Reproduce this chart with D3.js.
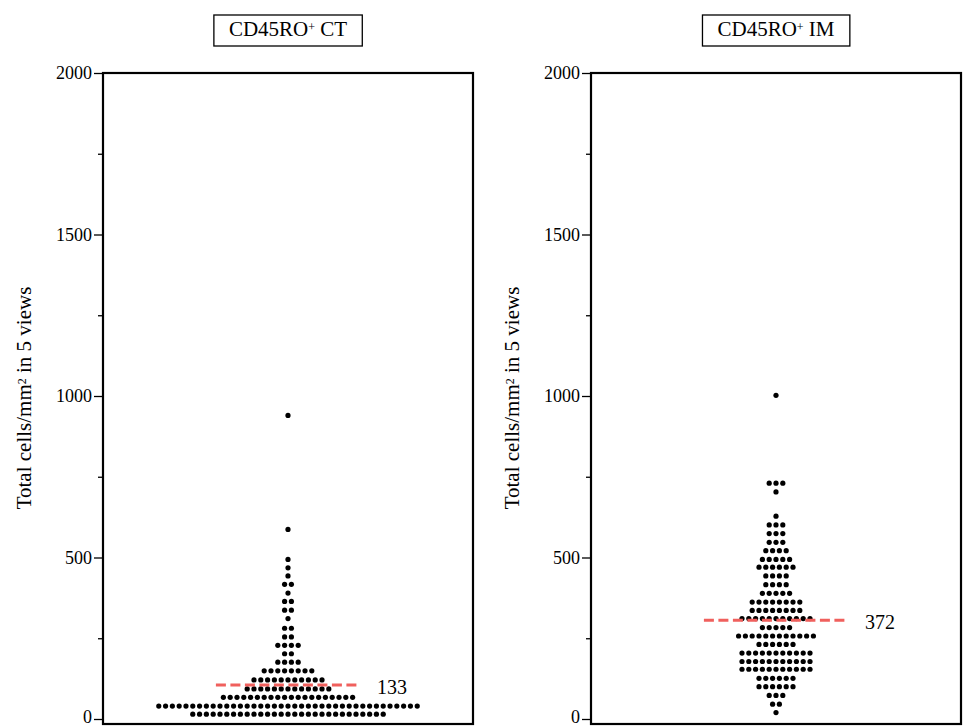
<!DOCTYPE html>
<html>
<head>
<meta charset="utf-8">
<script src="https://cdn.jsdelivr.net/npm/d3@7"></script>
<style>
  body { margin: 0; background: #fff; }
  svg { display: block; font-family: 'Liberation Serif', 'Times New Roman', serif; }
</style>
</head>
<body>
<div class="chart"></div>
<script>
'use strict'
// Data: dot rows (value of the row, number of dots in it).
const ctLevels = [15, 40, 67, 93, 121, 149, 176, 202, 228, 254, 281, 311, 337, 364, 390, 417, 443, 468, 494, 587, 940];
const ctCounts = [29, 39, 20, 13, 11, 8, 4, 2, 4, 2, 2, 1, 2, 2, 1, 2, 1, 1, 1, 1, 1];

const imLevels = [20, 46, 73, 100, 126, 154, 178, 204, 231, 257, 283, 311, 336, 362, 389, 416, 443, 470, 494, 521, 547, 574, 601, 628, 703, 730, 1002];
const imCounts = [1, 2, 3, 6, 6, 11, 11, 11, 6, 12, 5, 11, 8, 8, 5, 4, 4, 6, 5, 4, 3, 3, 3, 1, 1, 3, 1];

const panelNames = ['CT', 'IM'];
const lineValues = [105, 306];
const lineLabels = ['133', '372'];

const majorTicks = [0, 500, 1000, 1500, 2000];
const minorTicks = [250, 750, 1250, 1750];

// Turn rows into single dots, centred on the panel.
function expandRows(levels, counts) {
  const dots = [];
  levels.forEach((v, r) => {
    const n = counts[r];
    for (let i = 0; i < n; i++) dots.push({ value: v, slot: i - (n - 1) / 2 });
  });
  return dots;
}

const panels = [
  { name: panelNames[0], dots: expandRows(ctLevels, ctCounts), line: lineValues[0], label: lineLabels[0], left: 103 },
  { name: panelNames[1], dots: expandRows(imLevels, imCounts), line: lineValues[1], label: lineLabels[1], left: 591 },
];

// CHART SIZE
const width = 370;
const topY = 73;
const height = 646;

const yScale = d3.scaleLinear([0, 2000], [height, 0]);
const xScale = d3.scaleLinear([-27.2, 27.2], [0, width]);

const svg = d3.select('.chart')
  .append('svg')
  .attr('width', 965)
  .attr('height', 726);

panels.forEach(p => {
  const g = svg.append('g')
    .attr('transform', `translate(${p.left}, ${topY})`);

  // TITLE BOX
  const title = g.append('text')
    .attr('x', width / 2)
    .attr('y', -37)
    .attr('text-anchor', 'middle')
    .style('font-size', '21px');
  title.append('tspan').text('CD45RO');
  title.append('tspan').text('+').attr('baseline-shift', '45%').style('font-size', '12px');
  title.append('tspan').text(' ' + p.name);
  const bb = title.node().getBBox();
  g.insert('rect', 'text')
    .attr('x', bb.x - 15)
    .attr('y', -58)
    .attr('width', bb.width + 30)
    .attr('height', 31)
    .attr('fill', 'none')
    .attr('stroke', '#000')
    .attr('stroke-width', 1.3);

  // Y AXIS
  const yAxis = d3.axisLeft(yScale)
    .tickValues(majorTicks)
    .tickSize(9)
    .tickPadding(2)
    .tickFormat(d3.format('d'));
  const yAxisDraw = g.append('g').call(yAxis);
  yAxisDraw.select('.domain').remove();
  yAxisDraw.selectAll('line').attr('stroke-width', 1.3);
  yAxisDraw.selectAll('text')
    .style('font-family', "'Liberation Serif', serif")
    .style('font-size', '18px')
    .attr('fill', '#000')
    .attr('dy', d => (d === 0 ? '0.18em' : '0.32em'));

  const minorAxis = d3.axisLeft(yScale)
    .tickValues(minorTicks)
    .tickSize(5)
    .tickFormat('');
  const minorDraw = g.append('g').call(minorAxis);
  minorDraw.select('.domain').remove();
  minorDraw.selectAll('line').attr('stroke-width', 1.3);

  // FRAME (bottom edge sits a little under zero)
  g.append('rect')
    .attr('width', width)
    .attr('height', yScale(0) + 5)
    .attr('fill', 'none')
    .attr('stroke', '#000')
    .attr('stroke-width', 2.2);

  // Y LABEL
  const yLabel = g.append('text')
    .attr('transform', `translate(-72, ${yScale(1000) + 2}) rotate(-90)`)
    .attr('text-anchor', 'middle')
    .style('font-size', '21px');
  yLabel.append('tspan').text('Total cells/mm');
  yLabel.append('tspan').text('2').attr('baseline-shift', '45%').style('font-size', '12px');
  yLabel.append('tspan').text(' in 5 views');

  // DOTS
  g.selectAll('.dot')
    .data(p.dots)
    .enter()
    .append('circle')
    .attr('class', 'dot')
    .attr('cx', d => xScale(d.slot))
    .attr('cy', d => yScale(d.value))
    .attr('r', 2.6)
    .attr('fill', '#000');

  // DASHED LINE AND LABEL
  g.append('line')
    .attr('x1', xScale(-10.6))
    .attr('x2', xScale(10.6))
    .attr('y1', yScale(p.line))
    .attr('y2', yScale(p.line))
    .attr('stroke', '#f0605d')
    .attr('stroke-width', 3)
    .attr('stroke-dasharray', '10,4.5');

  g.append('text')
    .attr('x', xScale(10.6) + 17)
    .attr('y', yScale(p.line) + 9)
    .style('font-size', '20px')
    .text(p.label);
});
</script>
</body>
</html>
